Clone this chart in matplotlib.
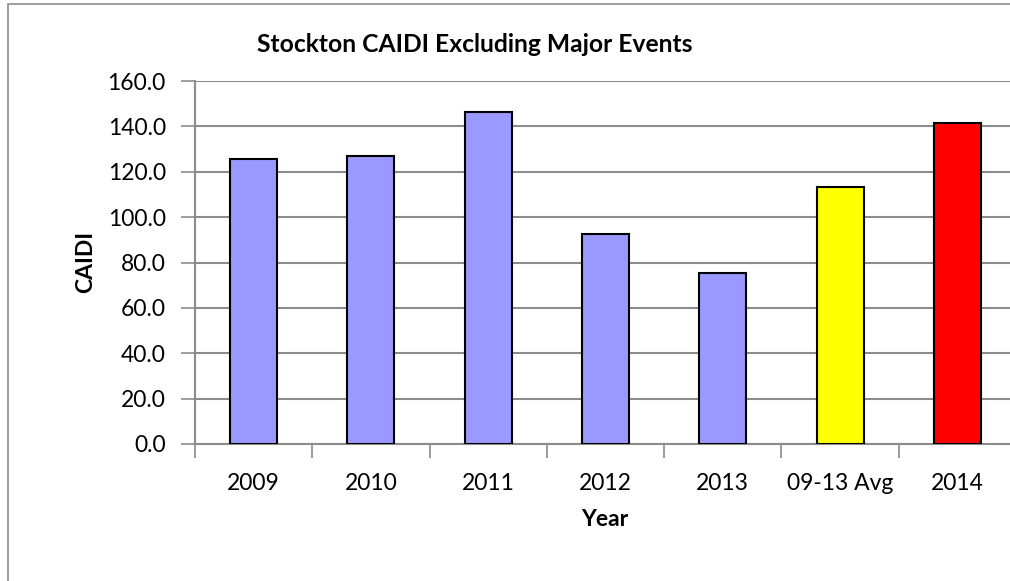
import matplotlib
matplotlib.use("Agg")
import matplotlib.pyplot as plt
from matplotlib.patches import Rectangle

categories = ["2009", "2010", "2011", "2012", "2013", "09-13 Avg", "2014"]
values = [125.8, 127.0, 146.3, 92.4, 75.2, 113.3, 141.6]
colors = ["#9999FF", "#9999FF", "#9999FF", "#9999FF", "#9999FF", "#FFFF00", "#FF0000"]
yticks = [0, 20, 40, 60, 80, 100, 120, 140, 160]

plt.rcParams['font.family'] = ['Lato', 'DejaVu Sans']

W, H = 1010, 581
fig = plt.figure(figsize=(W / 100, H / 100), dpi=100)

# outer chart border
fig.patches.append(Rectangle((8 / W, -0.05), 1.1, (H - 4) / H + 0.05, transform=fig.transFigure,
                             fill=False, edgecolor="#8c8c8c", linewidth=1.2))

left, right, top, bottom = 195, 1016, 81, 444
ax = fig.add_axes([left / W, 1 - bottom / H, (right - left) / W, (bottom - top) / H])

x = list(range(len(categories)))
ax.bar(x, values, width=0.40, color=colors, edgecolor="black", linewidth=1.5, zorder=3)

ax.set_xlim(-0.5, len(categories) - 0.5)
ax.set_ylim(0, 160)
ax.set_yticks(yticks)
ax.set_yticklabels([f"{v:.1f}" for v in yticks], fontsize=16.5)
ax.yaxis.grid(True, color="#8c8c8c", linewidth=1.5, zorder=0)
ax.set_axisbelow(True)

ax.set_xticks([i + 0.5 for i in range(-1, len(categories) - 1)] + [len(categories) - 0.5])
ax.set_xticklabels([])
ax.set_xticks(x, minor=True)
ax.set_xticklabels(categories, minor=True, fontsize=16.5)
ax.tick_params(axis="x", which="major", length=10, width=1.2, color="#8c8c8c", direction="out")
ax.tick_params(axis="x", which="minor", length=0, pad=21)
ax.tick_params(axis="y", length=10, width=1.2, color="#8c8c8c", pad=11)

for s in ["top", "right"]:
    ax.spines[s].set_visible(False)
for s in ["left", "bottom"]:
    ax.spines[s].set_color("#8c8c8c")
    ax.spines[s].set_linewidth(1.5)

fig.text(475 / W, 1 - 45 / H, "Stockton CAIDI Excluding Major Events", ha="center", va="center",
         fontsize=17.7, fontweight="bold")
fig.text(86 / W, 1 - 262 / H, "CAIDI", ha="center", va="center", rotation=90,
         fontsize=16.5, fontweight="bold")
fig.text(605 / W, 1 - 519 / H, "Year", ha="center", va="center", fontsize=16.5, fontweight="bold")

fig.savefig("out.png", dpi=100)
